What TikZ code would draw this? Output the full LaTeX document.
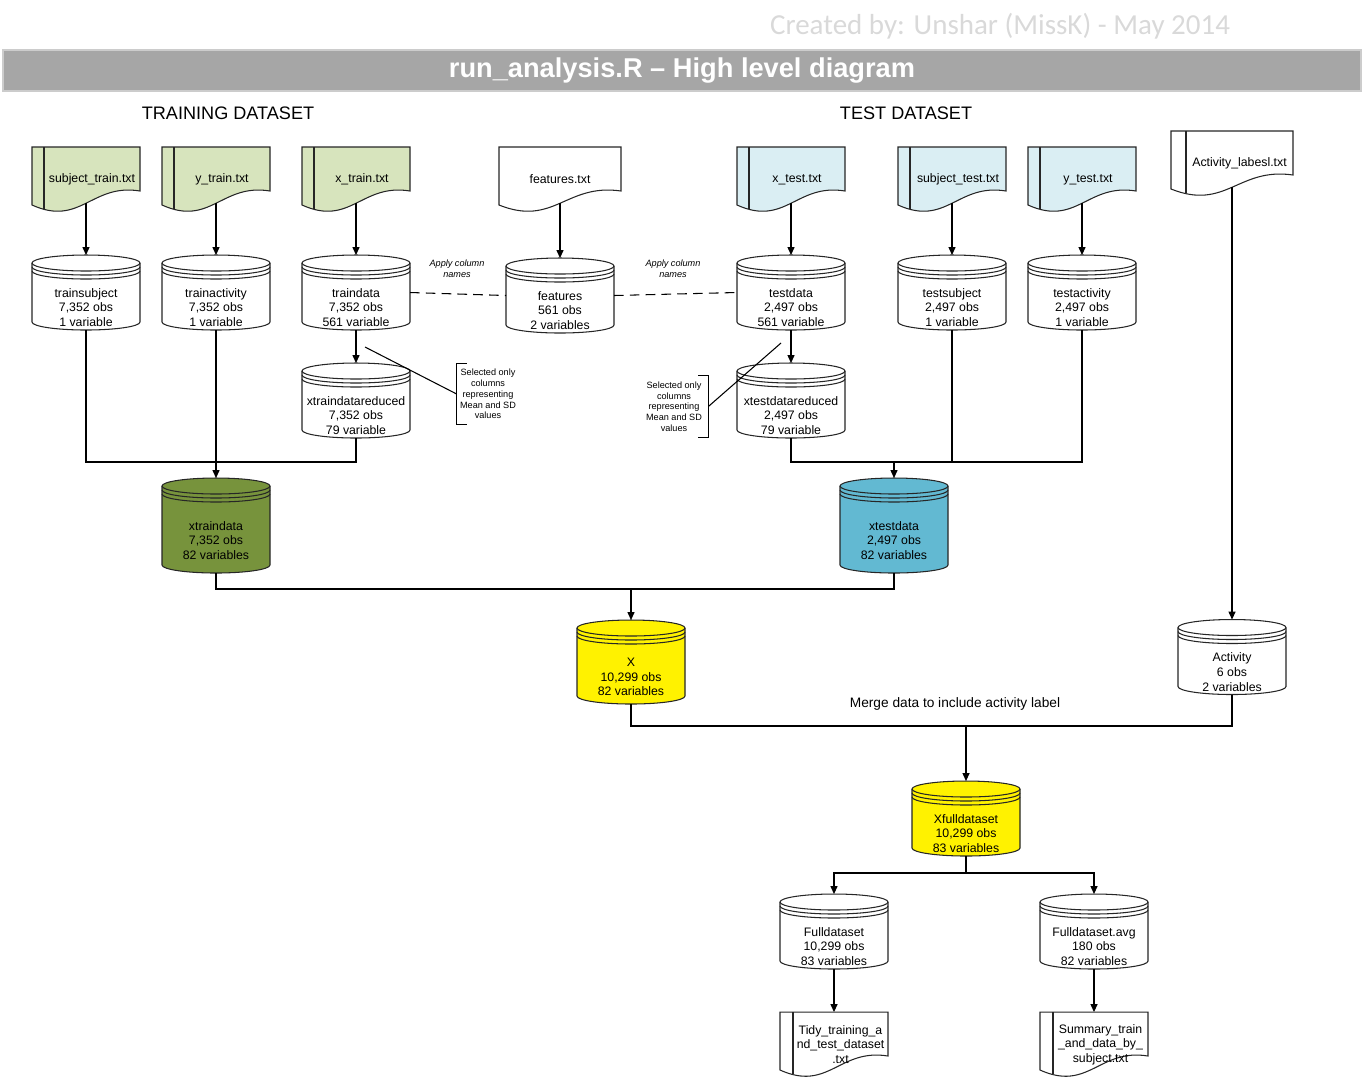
\documentclass[tikz,border=0pt]{standalone}
\usepackage{fontspec}
\setmainfont{Liberation Sans}
\newfontfamily\creditfont{Carlito}
\usetikzlibrary{arrows.meta,backgrounds}

\definecolor{traingreen}{HTML}{D7E4BD}
\definecolor{testblue}{HTML}{DAEEF3}
\definecolor{traindark}{HTML}{77933C}
\definecolor{testdark}{HTML}{62B9D2}
\definecolor{titlegray}{HTML}{A6A6A6}
\definecolor{creditgray}{HTML}{D9D9D9}

\newcommand{\pxu}{0.02cm}

\tikzset{
  shapeline/.style={draw=black!85, line width=0.6pt},
  link/.style={draw=black, line width=0.6pt},
  arr/.style={link, -{Triangle[length=4.5pt,width=4pt]}},
  dbbox/.style={rectangle, minimum width=108*\pxu, inner sep=0pt, outer sep=0pt},
  docbox/.style={rectangle, minimum height=65*\pxu, inner sep=0pt, outer sep=0pt},
  dbtext/.style={font=\fontsize{7}{8.3}\selectfont, align=center, inner sep=0pt, yshift=-15*\pxu},
  doctext/.style={font=\fontsize{7}{8.3}\selectfont, align=center, inner sep=0pt},
  note/.style={font=\fontsize{5.2}{6.1}\selectfont, align=center, inner sep=0pt},
  applynote/.style={font=\itshape\fontsize{5.2}{6.1}\selectfont, align=center, inner sep=0pt},
  header/.style={font=\fontsize{10.3}{12}\selectfont},
  titlebar/.style={fill=titlegray, draw=black!20, line width=1pt, text=white,
    minimum width=1358*\pxu, minimum height=41*\pxu,
    font=\bfseries\fontsize{15.5}{18}\selectfont}
}

% cylinder: name, x, y (centre), height in px, fill, text
\newcommand{\dbnode}[6]{%
  \node[dbbox, minimum height=#4*\pxu, label={[dbtext]center:{#6}}] (#1) at (#2,-#3) {};
  \begin{pgfonlayer}{background}
  \begin{scope}[shift={(#1.north west)}]
    \filldraw[shapeline, fill=#5] (0,-8) -- (0,{8-#4})
      arc[start angle=180, end angle=360, x radius=54, y radius=8] -- (108,-8)
      arc[start angle=0, end angle=180, x radius=54, y radius=8] -- cycle;
    \foreach \dy in {8,12,16}
      \draw[shapeline] (0,-\dy) arc[start angle=180, end angle=360, x radius=54, y radius=8];
  \end{scope}
  \end{pgfonlayer}}

% document: [bar offset] name, x, y (centre), width in px, fill, text
\newcommand{\docnode}[7][12]{%
  \node[docbox, minimum width=#5*\pxu, label={[doctext, xshift=#1*\pxu/2]center:{#7}}] (#2) at (#3,-#4) {};
  \begin{pgfonlayer}{background}
  \begin{scope}[shift={(#2.north west)}]
    \filldraw[shapeline, fill=#6] (0,0) -- (#5,0) -- (#5,-44)
      .. controls ({0.55*#5},-36) and ({0.45*#5},-80) .. (0,-58) -- cycle;
    \ifnum#1>0 \draw[shapeline] (#1,0) -- (#1,-62); \fi
    \coordinate (#2-out) at ({0.5*#5},-56);
  \end{scope}
  \end{pgfonlayer}}

\begin{document}
\begin{tikzpicture}[x=0.02cm, y=0.02cm]
\useasboundingbox (0,0) rectangle (1364,-1080);

% heading
\node[text=creditgray, font=\creditfont\fontsize{16.5}{19}\selectfont] (credit) at (1000,-26) {Created by: Unshar (MissK) - May 2014};
\node[titlebar] (title) at (682,-70.5) {run\_analysis.R – High level diagram};
\node[header] (trainhead) at (228,-113) {TRAINING DATASET};
\node[header] (testhead) at (906,-113) {TEST DATASET};

% input files
\docnode{subjtrain}{86}{179.5}{108}{traingreen}{subject\_train.txt}
\docnode{ytrain}{216}{179.5}{108}{traingreen}{y\_train.txt}
\docnode{xtrain}{356}{179.5}{108}{traingreen}{x\_train.txt}
\docnode[0]{featurestxt}{560}{179.5}{122}{white}{features.txt}
\docnode{xtest}{791}{179.5}{108}{testblue}{x\_test.txt}
\docnode{subjtest}{952}{179.5}{108}{testblue}{subject\_test.txt}
\docnode{ytest}{1082}{179.5}{108}{testblue}{y\_test.txt}
\docnode[15]{actlabels}{1232}{163.5}{122}{white}{Activity\_labesl.txt}

% data frames
\dbnode{trainsubject}{86}{292.5}{75}{white}{trainsubject\\7,352 obs\\1 variable}
\dbnode{trainactivity}{216}{292.5}{75}{white}{trainactivity\\7,352 obs\\1 variable}
\dbnode{traindata}{356}{292.5}{75}{white}{traindata\\7,352 obs\\561 variable}
\dbnode{features}{560}{295.5}{75}{white}{features\\561 obs\\2 variables}
\dbnode{testdata}{791}{292.5}{75}{white}{testdata\\2,497 obs\\561 variable}
\dbnode{testsubject}{952}{292.5}{75}{white}{testsubject\\2,497 obs\\1 variable}
\dbnode{testactivity}{1082}{292.5}{75}{white}{testactivity\\2,497 obs\\1 variable}
\dbnode{xtrainred}{356}{400.5}{75}{white}{xtraindatareduced\\7,352 obs\\79 variable}
\dbnode{xtestred}{791}{400.5}{75}{white}{xtestdatareduced\\2,497 obs\\79 variable}
\dbnode{xtraindata}{216}{525.5}{95}{traindark}{xtraindata\\7,352 obs\\82 variables}
\dbnode{xtestdata}{894}{525.5}{95}{testdark}{xtestdata\\2,497 obs\\82 variables}
\dbnode{X}{631}{662}{84}{yellow}{X\\10,299 obs\\82 variables}
\dbnode{activity}{1232}{657}{75}{white}{Activity\\6 obs\\2 variables}
\dbnode{xfull}{966}{818.5}{75}{yellow}{Xfulldataset\\10,299 obs\\83 variables}
\dbnode{fulldataset}{834}{931.5}{75}{white}{Fulldataset\\10,299 obs\\83 variables}
\dbnode{fullavg}{1094}{931.5}{75}{white}{Fulldataset.avg\\180 obs\\82 variables}

% output files
\docnode[13]{tidy}{834}{1044.5}{108}{white}{Tidy\_training\_a\\nd\_test\_dataset\\.txt}
\docnode[13]{summary}{1094}{1044.5}{108}{white}{Summary\_train\\\_and\_data\_by\_\\subject.txt}

% read files
\draw[arr] (subjtrain-out) -- (trainsubject.north);
\draw[arr] (ytrain-out) -- (trainactivity.north);
\draw[arr] (xtrain-out) -- (traindata.north);
\draw[arr] (featurestxt-out) -- (features.north);
\draw[arr] (xtest-out) -- (testdata.north);
\draw[arr] (subjtest-out) -- (testsubject.north);
\draw[arr] (ytest-out) -- (testactivity.north);
\draw[arr] (actlabels-out) -- (activity.north);

% column names
\draw[link, dash pattern=on 5.5pt off 3.5pt] (traindata.east) -- (features.west);
\draw[link, dash pattern=on 5.5pt off 3.5pt] (features.east) -- (testdata.west);
\node[applynote] (applytrain) at (457,-269) {Apply column\\names};
\node[applynote] (applytest) at (673,-269) {Apply column\\names};

% select mean and sd
\draw[arr] (traindata.south) -- (xtrainred.north);
\draw[arr] (testdata.south) -- (xtestred.north);
\node[note, minimum width=62*\pxu, minimum height=60*\pxu] (seltrain) at (488,-394) {Selected only\\columns\\representing\\Mean and SD\\values};
\draw[link] ([xshift=10*\pxu]seltrain.north west) -- (seltrain.north west) -- (seltrain.south west) -- ([xshift=10*\pxu]seltrain.south west);
\coordinate (trainptr) at (365,-347);
\draw[link] (trainptr) -- (seltrain.west);
\node[note, minimum width=68*\pxu, minimum height=61*\pxu] (seltest) at (674,-406.5) {Selected only\\columns\\representing\\Mean and SD\\values};
\draw[link] ([xshift=-10*\pxu]seltest.north east) -- (seltest.north east) -- (seltest.south east) -- ([xshift=-10*\pxu]seltest.south east);
\coordinate (testptr) at (781,-343);
\draw[link] (seltest.east) -- (testptr);

% combine columns
\coordinate (trjoin) at (216,-462);
\draw[link] (trainsubject.south) |- (trjoin);
\draw[link] (xtrainred.south) |- (trjoin);
\draw[arr] (trainactivity.south) -- (xtraindata.north);
\coordinate (tejoin) at (894,-462);
\draw[link] (xtestred.south) |- (tejoin);
\draw[link] (testsubject.south) |- (tejoin);
\draw[link] (testactivity.south) |- (tejoin);
\draw[arr] (tejoin) -- (xtestdata.north);

% combine rows
\coordinate (xjoin) at (631,-589);
\draw[link] (xtraindata.south) |- (xjoin);
\draw[link] (xtestdata.south) |- (xjoin);
\draw[arr] (xjoin) -- (X.north);

% merge activity labels
\coordinate (fulljoin) at (966,-726);
\draw[link] (X.south) |- (fulljoin);
\draw[link] (activity.south) |- (fulljoin);
\draw[arr] (fulljoin) -- (xfull.north);
\node[font=\fontsize{7.8}{9}\selectfont] (mergelabel) at (955,-704) {Merge data to include activity label};

% outputs
\coordinate (splitjoin) at (966,-873);
\draw[link] (xfull.south) -- (splitjoin);
\draw[arr] (splitjoin) -| (fulldataset.north);
\draw[arr] (splitjoin) -| (fullavg.north);
\draw[arr] (fulldataset.south) -- (tidy.north);
\draw[arr] (fullavg.south) -- (summary.north);
\end{tikzpicture}
\end{document}
